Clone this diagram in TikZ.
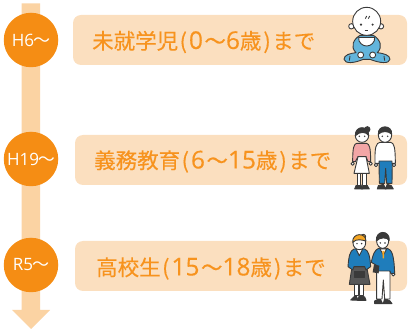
\documentclass[tikz,border=0pt]{standalone}
\usepackage{fontspec}
\newfontfamily\cjk[FakeBold=0.25]{Noto Sans CJK JP}
\newfontfamily\plaincjk{Noto Sans CJK JP}
\newfontfamily\dgfont[FakeBold=0.25]{Open Sans}
\setsansfont{Open Sans}
\definecolor{org}{HTML}{F58D14}
\definecolor{txt}{HTML}{F7931E}
\definecolor{pale}{HTML}{FBDFBF}
\definecolor{barc}{HTML}{FBD3A3}
\definecolor{ink}{HTML}{3A3A3A}
\definecolor{bl}{HTML}{62B5DC}
\definecolor{blz}{HTML}{1F7DBB}
\definecolor{pnk}{HTML}{F2A6A6}
\definecolor{hairo}{HTML}{F5A623}
\newcommand{\wav}{{\plaincjk ～}}
\newcommand{\lp}{\hspace{1.5pt}(\hspace{2pt}}
\newcommand{\rp}{\hspace{2pt})\hspace{1.5pt}}
\newcommand{\dg}[1]{{\dgfont\fontsize{24.5}{24.5}\selectfont #1}}
\tikzset{
  yearc/.style={circle,fill=org,minimum size=54.5pt,inner sep=0pt,text=white,font=\sffamily\fontsize{17}{17}\selectfont},
  band/.style={fill=pale,rounded corners=8pt},
  lbl/.style={text=txt,font=\cjk\fontsize{21.5}{21.5}\selectfont,anchor=west,inner sep=0pt},
  o/.style={draw=ink,line width=0.9pt,line join=round}
}
\begin{document}
\begin{tikzpicture}[x=1pt,y=-1pt]
\useasboundingbox (0,0) rectangle (410,331);
\fill[barc] (21.5,3.5) -- (40,3.5) -- (40,310) -- (50,310) -- (31,329) -- (12,310) -- (21.5,310) -- cycle;
\fill[band] (73,15) rectangle (407,65);
\fill[band] (75,135) rectangle (407,185);
\fill[band] (75,241) rectangle (407,291);
\node[yearc] (a) at (31,40) {H6\kern-1pt\wav};
\node[yearc] (b) at (31,159) {H19\kern-1pt\wav};
\node[yearc] (c) at (31,265) {R5\kern-1pt\wav};
\node[lbl] (ta) at (92,42) {未就学児\lp\dg{0}\hspace{1.5pt}～\dg{6}歳\rp まで};
\node[lbl] (tb) at (94,161.5) {義務教育\lp\dg{6}\hspace{1.5pt}～\dg{15}歳\rp まで};
\node[lbl] (tc) at (96,268.5) {高校生\lp\dg{15}\hspace{1.5pt}～\dg{18}歳\rp まで};
% baby
\begin{scope}[shift={(330pt,0pt)},x=0.3333pt,y=-0.3333pt]
\draw[o,fill=bl] (90,106) .. controls (70,118) and (60,140) .. (78,158) .. controls (60,160) and (42,165) .. (42,178) .. controls (45,192) and (72,190) .. (100,178) -- (120,178) .. controls (150,190) and (178,192) .. (180,178) .. controls (180,165) and (160,160) .. (142,158) .. controls (160,140) and (150,118) .. (130,106) -- cycle;
\draw[o] (60,168) -- (58,182) (162,168) -- (164,182);
\draw[o,fill=white] (86,112) -- (134,112) .. controls (136,128) and (122,138) .. (110,138) .. controls (98,138) and (84,128) .. (86,112) -- cycle;
\draw[o,fill=white] (92,165) circle (9);
\draw[o,fill=white] (128,165) circle (9);
\draw[o,fill=white] (64,79) circle (8);
\draw[o,fill=white] (153,79) circle (8);
\draw[o,fill=white] (110,64) ellipse (42 and 42);
\fill[ink] (93,74) circle (3.5) (128,74) circle (3.5);
\draw[o] (104,92) -- (114,92);
\draw[o] (106,56) -- (110,48) (115,56) -- (119,48);
\end{scope}
% couple
\begin{scope}[shift={(330pt,-115pt)},x=0.3333pt,y=-0.3333pt]
\draw[o,fill=ink] (78,212) -- (92,208) -- (98,222) -- (74,222) -- cycle;
\draw[o,fill=ink] (102,208) -- (112,212) -- (118,222) -- (94,222) -- cycle;
\draw[o,fill=white] (82,170) rectangle (92,210);
\draw[o,fill=white] (98,170) rectangle (108,210);
\draw[o,fill=white] (68,146) circle (5) (122,146) circle (5);
\draw[o,fill=pnk] (80,85) -- (110,85) .. controls (118,88) and (122,95) .. (122,140) -- (114,140) -- (108,125) -- (84,125) -- (76,140) -- (68,140) .. controls (68,95) and (72,88) .. (80,85) -- cycle;
\draw[o,fill=white] (84,125) -- (108,125) -- (118,175) -- (72,175) -- cycle;
\draw[o,fill=ink] (112,43) circle (8);
\draw[o,fill=white] (96,62) circle (20);
\draw[o,fill=ink] (76,62) .. controls (74,30) and (118,30) .. (116,62) .. controls (110,50) and (90,48) .. (76,62) -- cycle;
\fill[ink] (88,64) circle (2.5) (104,64) circle (2.5);
\draw[o,fill=ink] (145,212) -- (160,208) -- (168,222) -- (142,222) -- cycle;
\draw[o,fill=ink] (172,208) -- (184,212) -- (190,222) -- (166,222) -- cycle;
\draw[o,fill=blz] (147,136) -- (187,136) -- (186,205) -- (170,205) -- (167,160) -- (164,205) -- (148,205) -- cycle;
\draw[o,fill=white] (138,150) circle (5) (192,150) circle (5);
\draw[o,fill=white] (150,82) -- (182,82) .. controls (192,84) and (196,95) .. (196,145) -- (186,145) -- (186,138) -- (147,138) -- (147,145) -- (135,145) .. controls (134,95) and (138,84) .. (150,82) -- cycle;
\draw[o,fill=white] (165,60) ellipse (20 and 22);
\draw[o,fill=ink] (145,58) .. controls (142,28) and (188,28) .. (185,58) .. controls (178,48) and (155,46) .. (145,58) -- cycle;
\fill[ink] (157,64) circle (2.5) (173,64) circle (2.5);
\end{scope}
% students
\begin{scope}[shift={(330pt,-225pt)},x=0.3333pt,y=-0.3333pt]
\draw[o,fill=ink] (62,225) -- (78,210) -- (84,226) -- cycle;
\draw[o,fill=ink] (88,210) -- (104,216) -- (108,226) -- (84,226) -- cycle;
\draw[o,fill=white] (72,175) rectangle (84,212);
\draw[o,fill=white] (88,175) rectangle (100,212);
\draw[o,fill=ink!85] (66,125) -- (110,125) -- (120,178) -- (58,178) -- cycle;
\draw[o,fill=blz] (72,72) -- (104,72) .. controls (116,76) and (120,95) .. (122,125) -- (108,135) -- (104,125) -- (72,125) -- (68,135) -- (54,125) .. controls (56,95) and (60,76) .. (72,72) -- cycle;
\draw[o,fill=white] (78,72) -- (98,72) -- (88,92) -- cycle;
\draw[o,fill=ink] (74,138) rectangle (102,158);
\draw[o,fill=hairo] (100,35) circle (7);
\draw[o,fill=white] (88,54) ellipse (19 and 20);
\draw[o,fill=hairo] (68,52) .. controls (66,22) and (108,22) .. (108,48) .. controls (95,45) and (80,40) .. (68,52) -- cycle;
\fill[ink] (81,56) circle (2.5) (95,56) circle (2.5);
\draw[o,fill=ink] (134,228) -- (150,220) -- (158,236) -- (134,236) -- cycle;
\draw[o,fill=ink] (164,220) -- (180,228) -- (186,236) -- (160,236) -- cycle;
\draw[o,fill=white] (140,135) -- (180,135) -- (180,222) -- (164,222) -- (160,165) -- (156,222) -- (140,222) -- cycle;
\draw[o,fill=white] (190,148) circle (5);
\draw[o,fill=blz] (146,70) -- (172,70) .. controls (186,74) and (192,90) .. (194,145) -- (182,145) -- (180,138) -- (140,138) -- (138,120) -- (124,112) .. controls (128,90) and (134,74) .. (146,70) -- cycle;
\draw[o,fill=white] (150,72) -- (170,72) -- (160,90) -- cycle;
\fill[hairo] (157,78) -- (163,78) -- (162,100) -- (158,100) -- cycle;
\fill[ink] (132,118) -- (148,122) -- (146,145) -- (128,142) -- cycle;
\draw[o,fill=white] (158,48) ellipse (18 and 22);
\draw[o,fill=ink] (139,48) .. controls (136,14) and (180,14) .. (178,46) .. controls (170,36) and (150,36) .. (139,48) -- cycle;
\fill[ink] (151,54) circle (2.5) (165,54) circle (2.5);
\end{scope}
\end{tikzpicture}
\end{document}
